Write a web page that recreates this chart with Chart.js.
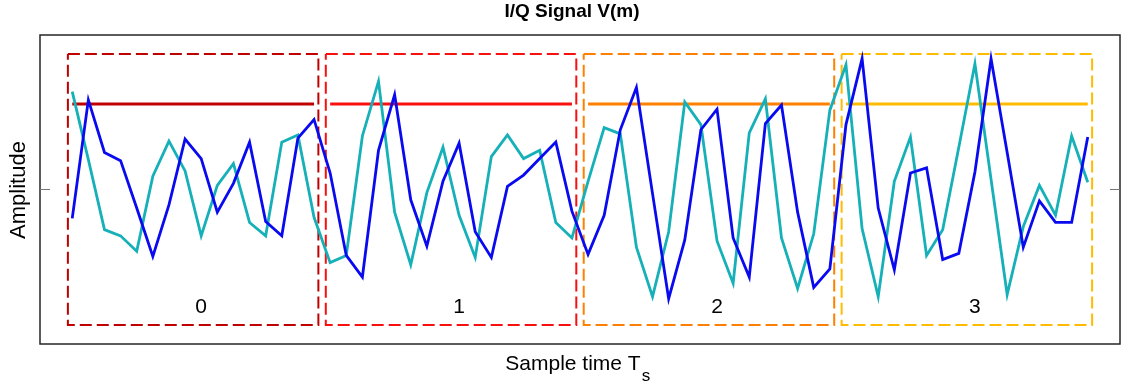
<!DOCTYPE html>
<html>
<head>
<meta charset="utf-8">
<script src="https://cdn.jsdelivr.net/npm/chart.js@4.4.0/dist/chart.umd.min.js"></script>
<style>
  html, body { margin: 0; padding: 0; background: #fff; }
  #wrap { width: 1122px; height: 385px; }
</style>
</head>
<body>
<div id="wrap"><canvas id="iqChart" width="1122" height="385"></canvas></div>
<script>
// I/Q samples (amplitude), one per sample time
const iSignal = [0.95, 0.29, -0.39, -0.45, -0.60, 0.13, 0.47, 0.18, -0.45, 0.04, 0.25, -0.32, -0.45, 0.46, 0.53, -0.27,
                 -0.71, -0.64, 0.52, 1.05, -0.22, -0.73, -0.03, 0.41, -0.25, -0.66, 0.32, 0.53, 0.30, 0.38, -0.32, -0.47,
                 0.08, 0.60, 0.54, -0.56, -1.04, -0.41, 0.85, 0.63, -0.50, -0.91, 0.55, 0.88, -0.47, -0.96, -0.43, 0.77,
                 1.21, -0.38, -1.04, 0.08, 0.51, -0.64, -0.39, 0.41, 1.22, 0.10, -1.02, -0.36, 0.04, -0.25, 0.52, 0.07];
const qSignal = [-0.28, 0.87, 0.36, 0.28, -0.18, -0.65, -0.15, 0.49, 0.30, -0.22, 0.06, 0.46, -0.31, -0.45, 0.50, 0.68,
                 0.16, -0.64, -0.85, 0.38, 0.92, -0.10, -0.55, 0.08, 0.45, -0.41, -0.66, 0.03, 0.14, 0.30, 0.46, -0.21,
                 -0.63, -0.25, 0.58, 0.99, -0.04, -1.06, -0.49, 0.58, 0.78, -0.47, -0.85, 0.64, 0.82, -0.22, -0.95, -0.77,
                 0.63, 1.27, -0.18, -0.78, 0.16, 0.21, -0.68, -0.62, 0.17, 1.27, 0.36, -0.56, -0.11, -0.32, -0.32, 0.51];

// symbol windows
const symbolLabels = ['0', '1', '2', '3'];
const symbolLen = 16;
const symbolLevel = [0.83, 0.83, 0.83, 0.83];
const boxHalfHeight = 1.315;
const symbolColors = ['#c00000', '#f81010', '#ff8000', '#ffbb00'];

const datasets = [];
datasets.push({
    label: 'Q',
    data: qSignal.map((v, i) => ({ x: i, y: v })),
    borderColor: '#0a0af0',
    borderWidth: 2.8,
    pointRadius: 0,
    tension: 0
});
datasets.push({
    label: 'I',
    data: iSignal.map((v, i) => ({ x: i, y: v })),
    borderColor: '#16b0b8',
    borderWidth: 2.8,
    pointRadius: 0,
    tension: 0
});
symbolLabels.forEach((s, k) => {
    const start = k * symbolLen;
    datasets.push({
        label: 'level ' + s,
        data: [{ x: start, y: symbolLevel[k] }, { x: start + symbolLen - 1, y: symbolLevel[k] }],
        borderColor: symbolColors[k],
        borderWidth: 2.8,
        pointRadius: 0
    });
});
symbolLabels.forEach((s, k) => {
    const x0 = k * symbolLen - 0.27, x1 = k * symbolLen + symbolLen - 0.73;
    datasets.push({
        label: 'box ' + s,
        data: [{ x: x0, y: boxHalfHeight }, { x: x1, y: boxHalfHeight }, { x: x1, y: -boxHalfHeight },
               { x: x0, y: -boxHalfHeight }, { x: x0, y: boxHalfHeight }],
        borderColor: symbolColors[k],
        borderWidth: 2,
        borderDash: [12, 5],
        pointRadius: 0
    });
});

const decorPlugin = {
    id: 'decor',
    afterDraw(chart) {
        const ctx = chart.ctx;
        const a = chart.chartArea;
        const xs = chart.scales.x, ys = chart.scales.y;
        ctx.save();
        // frame
        ctx.strokeStyle = '#262626';
        ctx.lineWidth = 1.5;
        ctx.strokeRect(a.left, a.top, a.right - a.left, a.bottom - a.top);
        // zero ticks
        const y0 = ys.getPixelForValue(0);
        ctx.strokeStyle = '#777';
        ctx.lineWidth = 1.2;
        ctx.beginPath();
        ctx.moveTo(a.left, y0); ctx.lineTo(a.left + 10, y0);
        ctx.moveTo(a.right, y0); ctx.lineTo(a.right - 10, y0);
        ctx.stroke();
        // symbol labels
        ctx.fillStyle = '#000';
        ctx.font = '21px "Liberation Sans", Arial, sans-serif';
        ctx.textAlign = 'center';
        ctx.textBaseline = 'middle';
        symbolLabels.forEach((s, k) => {
            ctx.fillText(s, xs.getPixelForValue(k * symbolLen + 8), ys.getPixelForValue(-1.14));
        });
        // title
        ctx.font = 'bold 19px "Liberation Sans", Arial, sans-serif';
        ctx.fillText('I/Q Signal V(m)', 572, 12);
        // x label with subscript
        ctx.font = '21px "Liberation Sans", Arial, sans-serif';
        ctx.textAlign = 'left';
        ctx.textBaseline = 'alphabetic';
        const main = 'Sample time T';
        const w = ctx.measureText(main).width;
        const sx = 578 - (w + 10) / 2;
        ctx.fillText(main, sx, 370);
        ctx.font = '17px "Liberation Sans", Arial, sans-serif';
        ctx.fillText('s', sx + w + 1, 381);
        // y label
        ctx.font = '22px "Liberation Sans", Arial, sans-serif';
        ctx.translate(25, 190);
        ctx.rotate(-Math.PI / 2);
        ctx.textAlign = 'center';
        ctx.fillText('Amplitude', 0, 0);
        ctx.restore();
    }
};

new Chart(document.getElementById('iqChart').getContext('2d'), {
    type: 'line',
    data: { datasets: datasets },
    options: {
        responsive: false,
        animation: false,
        layout: { padding: { left: 40, top: 35, right: 2, bottom: 41 } },
        scales: {
            x: { type: 'linear', min: -2, max: 65, display: false },
            y: { min: -1.5, max: 1.5, display: false }
        },
        plugins: {
            legend: { display: false },
            tooltip: { enabled: false },
            title: { display: false }
        }
    },
    plugins: [decorPlugin]
});
</script>
</body>
</html>
